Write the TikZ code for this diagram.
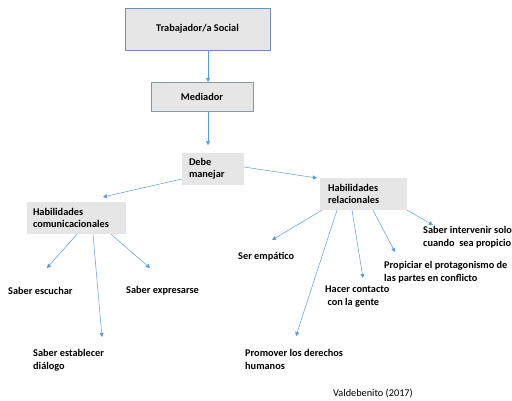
\documentclass[tikz,border=0pt]{standalone}
\usepackage{fontspec}
\setmainfont{Carlito}
\usetikzlibrary{arrows.meta}
\definecolor{boxfill}{HTML}{E7E6E6}
\definecolor{boxline}{HTML}{6F8DB5}
\definecolor{medline}{HTML}{8497B0}
\definecolor{arr}{HTML}{5B9BD5}
\begin{document}
\begin{tikzpicture}[x=1pt,y=-1pt,
  font=\fontsize{10.3}{12.5}\selectfont\bfseries,
  topbox/.style={draw=boxline, line width=0.8pt, fill=boxfill, inner sep=0pt, align=center},
  greybox/.style={fill=boxfill, inner ysep=0pt, align=left},
  lbl/.style={anchor=west, inner sep=0pt, align=left, font=\fontsize{10.3}{13}\selectfont\bfseries},
  conn/.style={draw=arr, line width=0.5pt, -{Triangle[length=4pt,width=4pt]}}]
\useasboundingbox (0,0) rectangle (512,400);
% boxes
\node[topbox, minimum width=145pt, minimum height=42pt] (ts) at (197.5,29) {Trabajador/a Social};
\node[topbox, draw=medline, minimum width=102pt, minimum height=29pt] (med) at (202,97) {Mediador};
\node[greybox, minimum width=62pt, minimum height=32pt, inner xsep=7pt, text width=48pt] (dm) at (213,169) {Debe\\manejar};
\node[greybox, minimum width=99pt, minimum height=32pt, inner xsep=6pt, text width=87pt] (hc) at (76.5,218) {Habilidades\\comunicacionales};
\node[greybox, minimum width=87pt, minimum height=32pt, inner xsep=8pt, text width=71pt] (hr) at (363.5,194) {Habilidades\\relacionales};
% labels
\node[lbl] (esc) at (8,291) {Saber escuchar};
\node[lbl] (exp) at (126,291) {Saber expresarse};
\node[lbl] (dia) at (33,360) {Saber establecer\\diálogo};
\node[lbl] (emp) at (238,257) {Ser empático};
\node[lbl] (int) at (423,237.5) {Saber intervenir solo\\cuando\ \ sea propicio};
\node[lbl] (pro) at (384,272.5) {Propiciar el protagonismo de\\las partes en conflicto};
\node[lbl] (hac) at (325,296.5) {Hacer contacto\\\ con la gente};
\node[lbl] (prom) at (245,359.5) {Promover los derechos\\humanos};
\node[anchor=west, inner sep=0pt, font=\fontsize{10.3}{12}\selectfont] (val) at (333,393) {Valdebenito (2017)};
% tips
\coordinate (tmed) at (208,82);
\coordinate (tdm) at (208,145);
\coordinate (thc) at (103,197);
\coordinate (thr) at (317,178);
\coordinate (tesc) at (47,268);
\coordinate (tdia) at (102,337);
\coordinate (texp) at (150,268);
\coordinate (temp) at (272,240);
\coordinate (tprom) at (296,336);
\coordinate (thac) at (363,278);
\coordinate (tpro) at (395,252);
\coordinate (tint) at (433,225);
% connectors
\draw[conn] (ts.south -| 208,0) -- (tmed);
\draw[conn] (med.south -| 208,0) -- (tdm);
\draw[conn] (dm.west |- 0,179) -- (thc);
\draw[conn] (dm.east |- 0,167) -- (thr);
\draw[conn] (hc.south -| 77,0) -- (tesc);
\draw[conn] (hc.south -| 93,0) -- (tdia);
\draw[conn] (hc.south -| 111,0) -- (texp);
\draw[conn] (hr.south -| 322,0) -- (temp);
\draw[conn] (hr.south -| 337,0) -- (tprom);
\draw[conn] (hr.south -| 352,0) -- (thac);
\draw[conn] (hr.south -| 373,0) -- (tpro);
\draw[conn] (hr.south east) -- (tint);
\end{tikzpicture}
\end{document}
